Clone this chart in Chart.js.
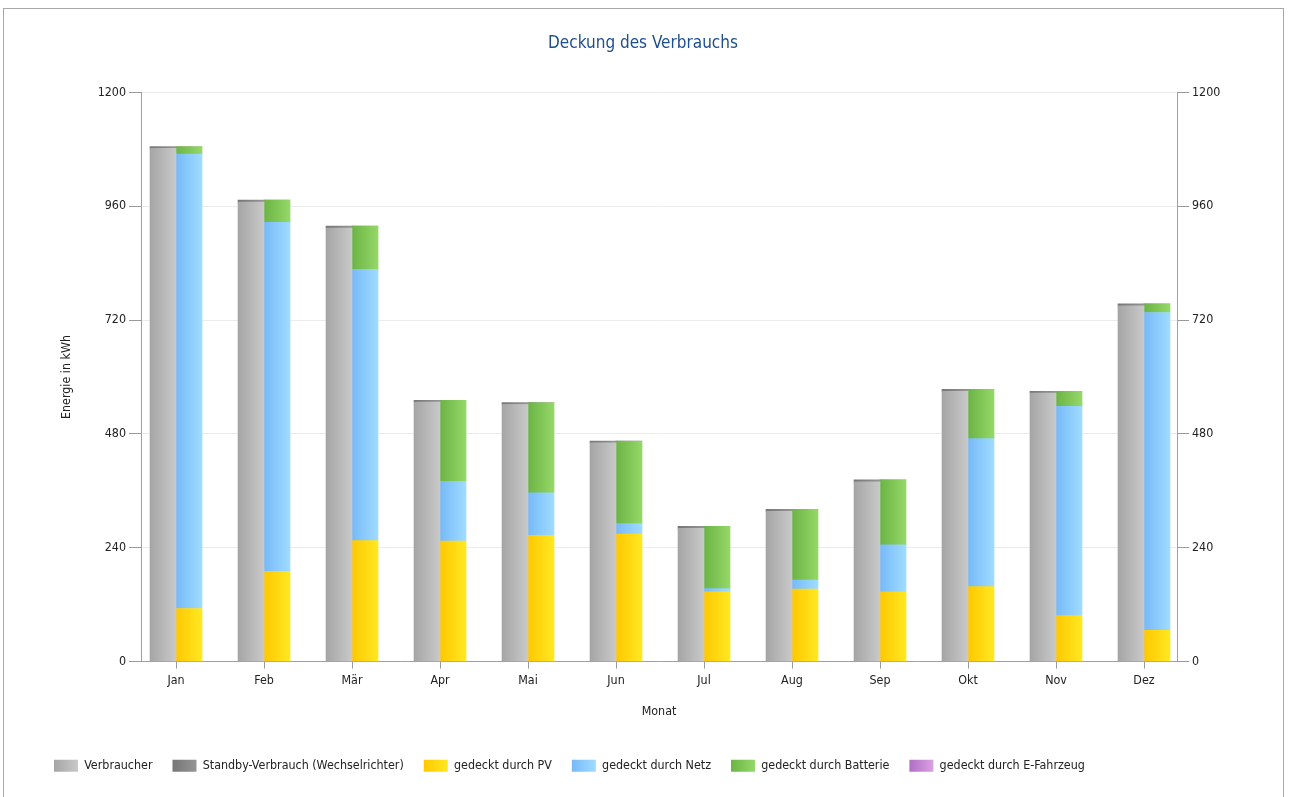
<!DOCTYPE html>
<html>
<head>
<meta charset="utf-8">
<script src="https://cdn.jsdelivr.net/npm/chart.js@4/dist/chart.umd.min.js"></script>
<style>
  html, body { margin: 0; padding: 0; background: #fff; }
  #frame { position: absolute; left: 3px; top: 8px; width: 1281px; height: 800px; border: 1px solid #a8a8a8; box-sizing: border-box; }
  #c { position: absolute; left: 0; top: 0; }
</style>
</head>
<body>
<div id="frame"></div>
<canvas id="c" width="1292" height="797"></canvas>
<script>
const months = ['Jan','Feb','Mär','Apr','Mai','Jun','Jul','Aug','Sep','Okt','Nov','Dez'];
const verbraucher = [1082, 969, 914, 547, 542, 461, 281, 317, 379, 570, 566, 750];
const standby     = [4, 4, 4, 4, 4, 4, 4, 4, 4, 4, 4, 4];
const pv          = [112, 190, 255, 254, 266, 269, 147, 153, 147, 158, 97, 66];
const netz        = [958, 736, 572, 126, 90, 22, 7, 19, 99, 312, 441, 670];
const batterie    = [16, 47, 91, 171, 190, 174, 131, 149, 137, 104, 32, 18];
const efahrzeug   = [0, 0, 0, 0, 0, 0, 0, 0, 0, 0, 0, 0];
const yTicks = [0, 240, 480, 720, 960, 1200];

const FONT = '"DejaVu Sans Condensed", "DejaVu Sans", sans-serif';
const BAR = 26;

function grad(c1, c2, side) {
  return (ctx) => {
    const chart = ctx.chart;
    const xs = chart.scales && chart.scales.x;
    if (ctx.type !== 'data' || !chart.chartArea || !xs) return c1;
    const cx = xs.getPixelForValue(ctx.raw.x);
    const x0 = side === 'L' ? cx - BAR : cx;
    const g = chart.ctx.createLinearGradient(x0, 0, x0 + BAR, 0);
    g.addColorStop(0, c1);
    g.addColorStop(1, c2);
    return g;
  };
}
const toXY = arr => arr.map((v, i) => ({x: i, y: v}));

const series = [
  {label: 'Verbraucher', data: verbraucher, stack: 'a', c: ['#a5a5a5', '#c9c9c9'], side: 'L'},
  {label: 'Standby-Verbrauch (Wechselrichter)', data: standby, stack: 'a', c: ['#767676', '#959595'], side: 'L'},
  {label: 'gedeckt durch PV', data: pv, stack: 'b', c: ['#ffc800', '#ffe822'], side: 'R'},
  {label: 'gedeckt durch Netz', data: netz, stack: 'b', c: ['#76b9f8', '#a0dcff'], side: 'R'},
  {label: 'gedeckt durch Batterie', data: batterie, stack: 'b', c: ['#6ab445', '#95d868'], side: 'R'},
  {label: 'gedeckt durch E-Fahrzeug', data: efahrzeug, stack: 'b', c: ['#b06ec4', '#d9a2e2'], side: 'R'}
];

const legendGrad = {
  id: 'legendGrad',
  beforeDraw(chart) {
    const lg = chart.legend;
    if (!lg || !lg.legendItems || !lg.legendHitBoxes) return;
    lg.legendItems.forEach((it, i) => {
      const hb = lg.legendHitBoxes[i];
      if (!hb) return;
      const s = series[it.datasetIndex];
      const g = chart.ctx.createLinearGradient(hb.left, 0, hb.left + 24, 0);
      g.addColorStop(0, s.c[0]);
      g.addColorStop(1, s.c[1]);
      it.fillStyle = g;
      it.lineWidth = 0;
    });
  }
};

const tickFont = { family: FONT, size: 12.4 };

new Chart(document.getElementById('c'), {
  type: 'bar',
  data: {
    datasets: series.map(s => ({
      label: s.label,
      data: toXY(s.data),
      stack: s.stack,
      backgroundColor: grad(s.c[0], s.c[1], s.side),
      borderWidth: 0,
      barThickness: BAR
    }))
  },
  options: {
    responsive: false,
    animation: false,
    devicePixelRatio: 1,
    layout: { padding: { left: 34, right: 40, top: 20, bottom: 15 } },
    plugins: {
      tooltip: { enabled: false },
      title: {
        display: true,
        text: 'Deckung des Verbrauchs',
        color: '#1f4e8c',
        font: { family: FONT, size: 17, weight: 'normal' },
        padding: { top: 13.8, bottom: 38.2 }
      },
      legend: {
        position: 'bottom',
        align: 'start',
        labels: {
          boxWidth: 24,
          boxHeight: 12,
          padding: 20,
          color: '#222',
          font: { family: FONT, size: 12.4 }
        }
      }
    },
    scales: {
      x: {
        type: 'linear',
        min: -0.398,
        max: 11.375,
        offset: false,
        afterBuildTicks: (sc) => { sc.ticks = months.map((m, i) => ({value: i})); },
        afterFit: (sc) => { sc.height = 78; },
        ticks: {
          callback: (v) => months[v],
          color: '#222',
          padding: 5,
          font: tickFont,
          maxRotation: 0,
          autoSkip: false
        },
        grid: { drawOnChartArea: false, offset: false, tickLength: 7, tickColor: '#999', color: '#999' },
        border: { color: '#a0a0a0' },
        title: { display: true, text: 'Monat', color: '#222', font: tickFont, padding: { top: 4, bottom: 20 } }
      },
      y: {
        position: 'left',
        stacked: true,
        min: 0,
        max: 1200,
        afterBuildTicks: (sc) => { sc.ticks = yTicks.map(v => ({value: v})); },
        afterFit: (sc) => { sc.width = 107; },
        ticks: { color: '#222', padding: 3, font: tickFont, callback: (v) => String(v) },
        grid: { color: '#ececec', tickColor: '#999', tickLength: 12 },
        border: { color: '#a0a0a0' },
        title: { display: true, text: 'Energie in kWh', color: '#222', font: tickFont, padding: { top: 25.5, bottom: 4 } }
      },
      y2: {
        position: 'right',
        min: 0,
        max: 1200,
        afterBuildTicks: (sc) => { sc.ticks = yTicks.map(v => ({value: v})); },
        afterFit: (sc) => { sc.width = 1292 - 40 - 1177; },
        ticks: { color: '#222', padding: 3, font: tickFont, callback: (v) => String(v) },
        grid: { drawOnChartArea: false, tickColor: '#999', tickLength: 12 },
        border: { color: '#a0a0a0' }
      }
    }
  },
  plugins: [legendGrad]
});
</script>
</body>
</html>
